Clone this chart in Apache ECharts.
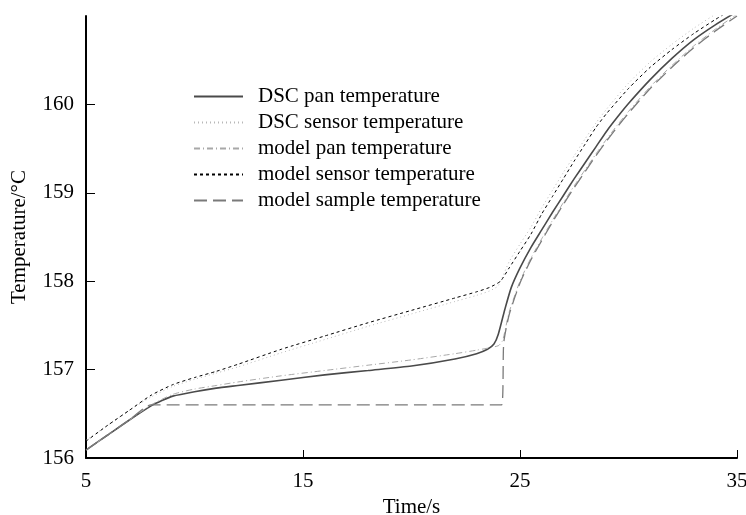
<!DOCTYPE html>
<html>
<head>
<meta charset="UTF-8">
<title>DSC temperatures</title>
<script src="https://cdn.jsdelivr.net/npm/echarts@6/dist/echarts.min.js"></script>
<style>
  html, body { margin: 0; padding: 0; background: #fff; }
  #chart { width: 746px; height: 515px; }
</style>
</head>
<body>
<div id="chart"></div>
<script>
// data (time in s, temperature in °C)
const xTicks = [5, 15, 25, 35];
const yTicks = [156, 157, 158, 159, 160];

const panTime = [5, 6, 7, 8, 8.5, 9, 10, 11, 12, 14, 16, 18, 20, 22, 23, 23.5, 23.8, 24, 24.3, 24.6, 25, 25.5, 26, 26.5, 27, 27.5, 28, 28.5, 29, 29.5, 30, 31, 32, 33, 34, 35];
const panTemp = [156.09, 156.26, 156.43, 156.59, 156.65, 156.70, 156.75, 156.79, 156.82, 156.88, 156.94, 156.99, 157.04, 157.12, 157.18, 157.23, 157.29, 157.40, 157.68, 157.93, 158.15, 158.38, 158.58, 158.78, 158.97, 159.16, 159.34, 159.52, 159.70, 159.86, 160.01, 160.28, 160.52, 160.73, 160.90, 161.05];

const sensorTime = [5, 6, 7, 8, 9, 10, 11, 12, 14, 16, 18, 20, 22, 23, 23.6, 24.0, 24.5, 25, 25.5, 26, 26.5, 27, 27.5, 28, 28.5, 29, 30, 31, 32, 33, 34, 35];
const sensorTemp = [156.20, 156.37, 156.54, 156.69, 156.81, 156.89, 156.96, 157.03, 157.19, 157.34, 157.49, 157.63, 157.77, 157.84, 157.89, 157.95, 158.22, 158.42, 158.61, 158.83, 159.03, 159.23, 159.42, 159.61, 159.79, 159.95, 160.24, 160.48, 160.68, 160.86, 161.02, 161.17];

const modelPanTime = [5, 6, 7, 8, 9, 10, 11, 12, 14, 16, 18, 20, 22, 23, 24, 24.2, 24.5, 25, 25.5, 26, 26.5, 27, 27.5, 28, 28.5, 29, 29.5, 30, 31, 32, 33, 34, 35];
const modelPanTemp = [156.09, 156.26, 156.43, 156.60, 156.72, 156.78, 156.82, 156.86, 156.93, 156.99, 157.05, 157.11, 157.18, 157.22, 157.27, 157.33, 157.65, 158.00, 158.26, 158.48, 158.69, 158.89, 159.08, 159.26, 159.44, 159.61, 159.77, 159.92, 160.20, 160.44, 160.66, 160.85, 161.02];

const modelSensorTime = [5, 6, 7, 8, 9, 10, 11, 12, 14, 16, 18, 20, 22, 23, 23.6, 24.1, 24.5, 25, 25.5, 26, 26.5, 27, 27.5, 28, 28.5, 29, 30, 31, 32, 33, 34, 35];
const modelSensorTemp = [156.19, 156.37, 156.54, 156.71, 156.83, 156.91, 156.98, 157.06, 157.23, 157.38, 157.53, 157.67, 157.81, 157.88, 157.93, 158.00, 158.15, 158.34, 158.53, 158.76, 158.96, 159.16, 159.36, 159.55, 159.74, 159.90, 160.18, 160.42, 160.62, 160.80, 160.96, 161.11];

const sampleTime = [5, 6, 7, 8, 24.15, 24.25, 24.5, 25, 25.5, 26, 26.5, 27, 27.5, 28, 28.5, 29, 29.5, 30, 31, 32, 33, 34, 35];
const sampleTemp = [156.09, 156.26, 156.43, 156.60, 156.60, 157.30, 157.62, 157.98, 158.24, 158.46, 158.67, 158.87, 159.06, 159.24, 159.42, 159.59, 159.75, 159.90, 160.18, 160.42, 160.64, 160.83, 161.00];

const names = ['DSC pan temperature', 'DSC sensor temperature', 'model pan temperature', 'model sensor temperature', 'model sample temperature'];

function pairs(xs, ys) {
  return xs.map((x, i) => [x, ys[i]]);
}

const font = 'Liberation Serif, Times New Roman, serif';
const chart = echarts.init(document.getElementById('chart'));

function lineSeries(name, xs, ys, color, width, type) {
  return {
    name: name,
    type: 'line',
    data: pairs(xs, ys),
    symbol: 'none',
    smooth: 0.2,
    clip: true,
    lineStyle: { color: color, width: width, type: type },
    itemStyle: { color: color },
    z: 3
  };
}

chart.setOption({
  animation: false,
  backgroundColor: '#fff',
  grid: { left: 86, right: 9, top: 16, bottom: 57, outerBoundsMode: 'none', containLabel: false },
  legend: {
    orient: 'vertical',
    left: 193,
    top: 86,
    padding: 0,
    itemWidth: 49,
    itemHeight: 14,
    itemGap: 5,
    itemStyle: { opacity: 0 },
    textStyle: { fontFamily: font, fontSize: 21, color: '#000', padding: [0, 0, 0, 10] },
    data: names
  },
  xAxis: {
    type: 'value',
    min: 5,
    max: 35,
    name: 'Time/s',
    nameLocation: 'middle',
    nameGap: 35,
    nameTextStyle: { fontFamily: font, fontSize: 21, color: '#000' },
    axisLine: { lineStyle: { color: '#000', width: 2 } },
    axisTick: { inside: true, length: 8, lineStyle: { color: '#000', width: 1 }, customValues: xTicks },
    axisLabel: { fontFamily: font, fontSize: 21, color: '#000', margin: 13, customValues: xTicks },
    splitLine: { show: false }
  },
  yAxis: {
    type: 'value',
    min: 156,
    max: 161,
    name: 'Temperature/°C',
    nameLocation: 'middle',
    nameGap: 56,
    nameRotate: 90,
    nameTextStyle: { fontFamily: font, fontSize: 21, color: '#000' },
    axisLine: { show: true, lineStyle: { color: '#000', width: 2 } },
    axisTick: { show: true, inside: true, length: 9, lineStyle: { color: '#000', width: 1 }, customValues: yTicks },
    axisLabel: { fontFamily: font, fontSize: 21, color: '#000', margin: 12, padding: [10, 0, 0, 0], customValues: yTicks },
    splitLine: { show: false }
  },
  series: [
    lineSeries(names[0], panTime, panTemp, '#4a4a4a', 1.6, 'solid'),
    lineSeries(names[1], sensorTime, sensorTemp, '#b8b8b8', 1, [1, 3]),
    lineSeries(names[2], modelPanTime, modelPanTemp, '#a8a8a8', 1, [6, 3, 1, 3]),
    lineSeries(names[3], modelSensorTime, modelSensorTemp, '#000', 1, [3, 3]),
    lineSeries(names[4], sampleTime, sampleTemp, '#7a7a7a', 1.3, [13, 6])
  ]
});
</script>
</body>
</html>
